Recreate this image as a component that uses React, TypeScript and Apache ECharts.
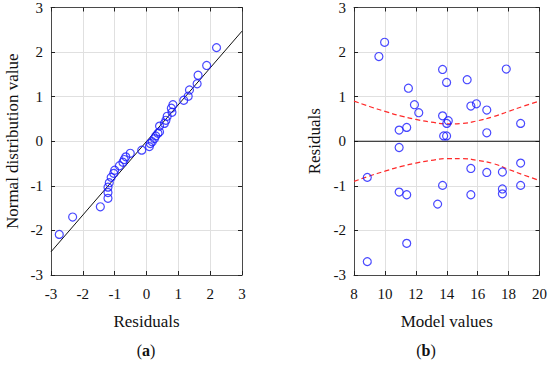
import React, { useEffect, useRef } from "react";
import * as echarts from "echarts";

const qqResiduals = [-2.74, -2.32, -1.45, -1.21, -1.21, -1.21, -1.17, -1.11, -1.03, -1.0, -0.85, -0.74, -0.7, -0.65, -0.51, -0.15, 0.09, 0.12, 0.18, 0.25, 0.29, 0.36, 0.41, 0.41, 0.56, 0.61, 0.65, 0.8, 0.78, 0.83, 1.17, 1.31, 1.35, 1.59, 1.62, 1.89, 2.2];
const qqNormal = [-2.09, -1.7, -1.47, -1.28, -1.15, -1.03, -0.93, -0.81, -0.72, -0.65, -0.55, -0.47, -0.41, -0.35, -0.27, -0.2, -0.12, -0.05, -0.01, 0.06, 0.12, 0.18, 0.21, 0.34, 0.4, 0.47, 0.56, 0.65, 0.74, 0.82, 0.92, 1.01, 1.15, 1.29, 1.48, 1.7, 2.1];
const refLineX = [-3, 3];
const refLineY = [-2.48, 2.47];

const modelValues = [8.86, 8.86, 9.61, 9.98, 10.92, 10.92, 10.92, 11.41, 11.41, 11.41, 11.52, 11.91, 12.19, 13.41, 13.73, 13.73, 13.73, 13.8, 13.99, 13.99, 14.0, 14.1, 15.32, 15.56, 15.56, 15.56, 15.92, 16.59, 16.59, 16.59, 17.6, 17.6, 17.6, 17.85, 18.78, 18.78, 18.78];
const residuals = [-2.7, -0.81, 1.9, 2.22, 0.25, -0.14, -1.14, 0.31, -1.2, -2.29, 1.19, 0.82, 0.64, -1.41, 1.61, 0.57, -0.99, 0.12, 0.12, 1.32, 0.4, 0.46, 1.38, 0.79, -0.61, -1.2, 0.84, 0.7, 0.19, -0.7, -0.69, -1.07, -1.18, 1.62, 0.4, -0.49, -0.99];

const bandX = [8, 9, 10, 11, 12, 13, 14, 15, 16, 17, 18, 19, 20];
const bandUpper = [0.9, 0.78, 0.67, 0.57, 0.49, 0.43, 0.39, 0.4, 0.46, 0.55, 0.67, 0.79, 0.9];
const bandLower = [-0.9, -0.78, -0.67, -0.57, -0.49, -0.43, -0.39, -0.39, -0.43, -0.5, -0.63, -0.76, -0.88];

const xTicksA = { min: -3, max: 3, interval: 1 };
const xTicksB = { min: 8, max: 20, interval: 2 };
const yTicks = { min: -3, max: 3, interval: 1 };

const FONT = "Liberation Serif";
const BOX = "#4a4a4a";

function axisBase(grid: number, range: any, position: string, labels: boolean, name?: string, nameGap?: number) {
  return {
    type: "value",
    gridIndex: grid,
    position,
    min: range.min,
    max: range.max,
    interval: range.interval,
    name: name || "",
    nameLocation: "middle",
    nameGap: nameGap || 0,
    nameTextStyle: { fontFamily: FONT, fontSize: 17, color: "#111" },
    axisLine: { show: true, onZero: false, lineStyle: { color: BOX, width: 1 } },
    axisTick: { show: true, inside: true, length: 4, lineStyle: { color: "#222", width: 1 } },
    axisLabel: labels
      ? { show: true, fontFamily: FONT, fontSize: 15, color: "#111", margin: 8, showMinLabel: true, showMaxLabel: true }
      : { show: false },
    splitLine: labels ? { show: true, lineStyle: { color: "#e0e0e0", width: 1 } } : { show: false },
  };
}

export default function App() {
  const ref = useRef<HTMLDivElement>(null);
  useEffect(() => {
    if (!ref.current) return;
    const chart = echarts.init(ref.current, undefined, { renderer: "svg" });
    const circle = {
      type: "scatter",
      symbol: "circle",
      symbolSize: 8,
      itemStyle: { color: "rgba(0,0,0,0)", borderColor: "#1a1aff", borderWidth: 1.2 },
      z: 5,
    };
    chart.setOption({
      animation: false,
      grid: [
        { left: 51, top: 7, width: 191, height: 268 },
        { left: 354, top: 7, width: 187, height: 268 },
      ],
      xAxis: [
        { ...axisBase(0, xTicksA, "bottom", true, "Residuals", 38), axisLabel: { show: true, fontFamily: FONT, fontSize: 15, color: "#111", margin: 11, showMinLabel: true, showMaxLabel: true } },
        axisBase(0, xTicksA, "top", false),
        { ...axisBase(1, xTicksB, "bottom", true, "Model values", 38), axisLabel: { show: true, fontFamily: FONT, fontSize: 15, color: "#111", margin: 11, showMinLabel: true, showMaxLabel: true } },
        axisBase(1, xTicksB, "top", false),
      ],
      yAxis: [
        axisBase(0, yTicks, "left", true, "Normal distribution value", 30),
        axisBase(0, yTicks, "right", false),
        axisBase(1, yTicks, "left", true, "Residuals", 31),
        axisBase(1, yTicks, "right", false),
      ],
      series: [
        {
          type: "line",
          xAxisIndex: 0,
          yAxisIndex: 0,
          data: refLineX.map((x, i) => [x, refLineY[i]]),
          symbol: "none",
          lineStyle: { color: "#111", width: 1 },
          z: 3,
        },
        { ...circle, xAxisIndex: 0, yAxisIndex: 0, data: qqResiduals.map((x, i) => [x, qqNormal[i]]) },
        {
          type: "line",
          xAxisIndex: 2,
          yAxisIndex: 2,
          data: [[8, 0], [20, 0]],
          symbol: "none",
          lineStyle: { color: "#111", width: 1 },
          z: 3,
        },
        {
          type: "line",
          xAxisIndex: 2,
          yAxisIndex: 2,
          data: bandX.map((x, i) => [x, bandUpper[i]]),
          symbol: "none",
          smooth: true,
          lineStyle: { color: "#ff2a2a", width: 1.2, type: [5, 3] },
          z: 3,
        },
        {
          type: "line",
          xAxisIndex: 2,
          yAxisIndex: 2,
          data: bandX.map((x, i) => [x, bandLower[i]]),
          symbol: "none",
          smooth: true,
          lineStyle: { color: "#ff2a2a", width: 1.2, type: [5, 3] },
          z: 3,
        },
        { ...circle, xAxisIndex: 2, yAxisIndex: 2, data: modelValues.map((x, i) => [x, residuals[i]]) },
      ],
      graphic: [
        {
          type: "text",
          x: 146,
          y: 350,
          style: {
            text: "({b|a})",
            rich: { b: { fontWeight: "bold", fontFamily: FONT, fontSize: 16, fill: "#111" } },
            fontFamily: FONT,
            fontSize: 16,
            fill: "#111",
            align: "center",
            verticalAlign: "middle",
          },
        },
        {
          type: "text",
          x: 426,
          y: 350,
          style: {
            text: "({b|b})",
            rich: { b: { fontWeight: "bold", fontFamily: FONT, fontSize: 16, fill: "#111" } },
            fontFamily: FONT,
            fontSize: 16,
            fill: "#111",
            align: "center",
            verticalAlign: "middle",
          },
        },
      ],
    });
    return () => chart.dispose();
  }, []);
  return <div ref={ref} style={{ width: 550, height: 372, position: "absolute", left: 0, top: 0, background: "#fff" }} />;
}
